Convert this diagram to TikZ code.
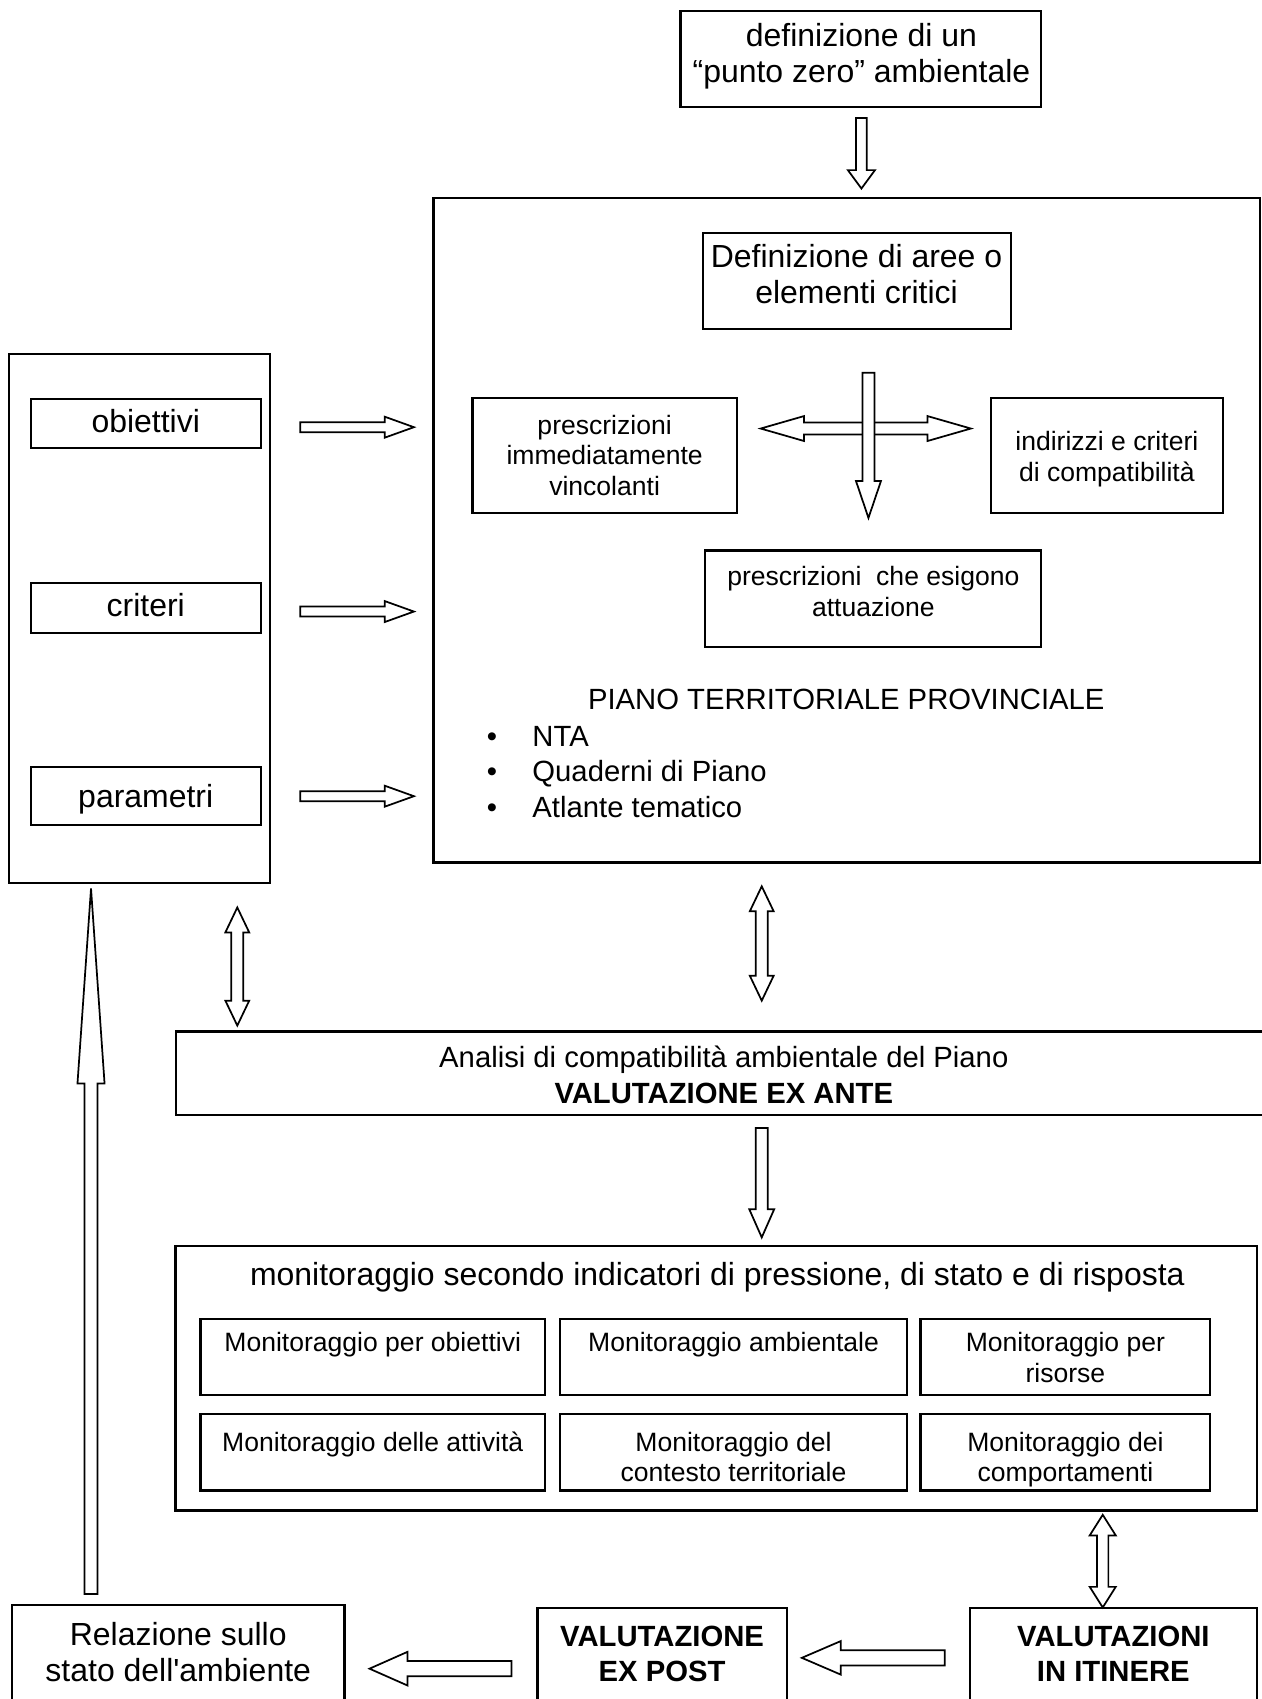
\documentclass[tikz,border=0pt]{standalone}
\usepackage{fontspec}
\setmainfont{Liberation Sans}
\usetikzlibrary{calc,fit}
\newcommand\FBig{\fontsize{14.75pt}{16.5pt}\selectfont}
\newcommand\FMed{\fontsize{13.5pt}{16pt}\selectfont}
\newcommand\FSmall{\fontsize{12.25pt}{14pt}\selectfont}
\newcommand\FBold{\fontsize{13.5pt}{16pt}\selectfont\bfseries}
\newcommand\FAna{\fontsize{13.5pt}{17pt}\selectfont}
% hollow single arrow: #1 tail, #2 tip, #3 half shaft, #4 half head, #5 head length
\newcommand\BlockArrow[5]{%
  \coordinate (ba-h) at ($(#2)!#5!(#1)$);
  \draw[harrow] ($(#1)!#3!90:(#2)$) -- ($(ba-h)!#3!-90:(#1)$) -- ($(ba-h)!#4!-90:(#1)$) -- (#2) -- ($(ba-h)!#4!90:(#1)$) -- ($(ba-h)!#3!90:(#1)$) -- ($(#1)!#3!-90:(#2)$) -- cycle;
}
% hollow double arrow
\newcommand\DoubleArrow[5]{%
  \coordinate (da-a) at ($(#1)!#5!(#2)$);
  \coordinate (da-b) at ($(#2)!#5!(#1)$);
  \draw[harrow] (#1) -- ($(da-a)!#4!90:(#2)$) -- ($(da-a)!#3!90:(#2)$) -- ($(da-b)!#3!-90:(#1)$) -- ($(da-b)!#4!-90:(#1)$) -- (#2) -- ($(da-b)!#4!90:(#1)$) -- ($(da-b)!#3!90:(#1)$) -- ($(da-a)!#3!-90:(#2)$) -- ($(da-a)!#4!-90:(#2)$) -- cycle;
}
\begin{document}
\begin{tikzpicture}[x=0.5pt,y=-0.5pt,
  box/.style={draw, line width=1pt, inner sep=0pt},
  txt/.style={inner sep=0pt, align=center},
  harrow/.style={draw, fill=white, line width=0.8pt, line join=miter}]
\useasboundingbox (0,0) rectangle (1164,1568);

% ---------- boxes ----------
\node[box, fit={(628,10) (961,99)}] (top) {};
\node[box, fit={(400,183) (1162.6,796)}] (ptp) {};
\node[box, fit={(649,215) (933,304)}] (defi) {};
\node[box, fit={(436,367.5) (680,473.5)}] (presc1) {};
\node[box, fit={(914.5,367.5) (1128.5,473.5)}] (indir) {};
\node[box, fit={(651,508) (961,597)}] (presc2) {};
\node[box, fit={(8,327) (249,815)}] (leftbox) {};
\node[box, fit={(28.5,368) (241,413.5)}] (obi) {};
\node[box, fit={(28.5,538) (241,584)}] (cri) {};
\node[box, fit={(28.5,708) (241,761)}] (par) {};
\node[box, fit={(162.5,952) (1190,1029)}] (ana) {};
\node[box, fit={(162,1150) (1160.4,1394)}] (mon) {};
\node[box, fit={(185,1217) (503,1287.5)}] (m1) {};
\node[box, fit={(517,1217) (837,1287.5)}] (m2) {};
\node[box, fit={(849.5,1217) (1117,1287.5)}] (m3) {};
\node[box, fit={(185,1305) (503,1375.5)}] (m4) {};
\node[box, fit={(517,1305) (837,1375.5)}] (m5) {};
\node[box, fit={(849.5,1305) (1117,1375.5)}] (m6) {};
\node[box, fit={(11,1481) (318,1600)}] (rel) {};
\node[box, fit={(496,1484) (726,1600)}] (expost) {};
\node[box, fit={(895,1484) (1160.4,1600)}] (iti) {};

% ---------- texts ----------
\node[txt, font=\FBig] (top-t) at (795,53) {definizione di un\strut\\“punto zero” ambientale\strut};
\node[txt, font=\FBig] (defi-t) at (790.5,257) {Definizione di aree o\strut\\elementi critici\strut};
\node[txt, font=\FSmall] (presc1-t) at (558,423.5) {prescrizioni\strut\\immediatamente\strut\\vincolanti\strut};
\node[txt, font=\FSmall] (indir-t) at (1021.5,424.5) {indirizzi e criteri\strut\\di compatibilità\strut};
\node[txt, font=\FSmall] (presc2-t) at (806,549) {prescrizioni\ \ che esigono\strut\\attuazione\strut};
\node[txt, font=\FMed, anchor=base] (piano-t) at (781,654.5) {PIANO TERRITORIALE PROVINCIALE};
\node[txt, font=\FMed, anchor=base] (b1) at (454,688.5) {•};
\node[txt, font=\FMed, anchor=base] (b2) at (454,721.5) {•};
\node[txt, font=\FMed, anchor=base] (b3) at (454,754) {•};
\node[txt, font=\FMed, anchor=base west] (l1) at (491,688.5) {NTA};
\node[txt, font=\FMed, anchor=base west] (l2) at (491,721.5) {Quaderni di Piano};
\node[txt, font=\FMed, anchor=base west] (l3) at (491,754) {Atlante tematico};

\node[txt, font=\FBig, anchor=base] (obi-t) at (134.5,399) {obiettivi};
\node[txt, font=\FBig, anchor=base] (cri-t) at (134.5,569) {criteri};
\node[txt, font=\FBig, anchor=base] (par-t) at (134.5,745) {parametri};

\node[txt, font=\FAna] (ana-t) at (668,995) {Analisi di compatibilità ambientale del Piano\strut\\\textbf{VALUTAZIONE EX ANTE}\strut};
\node[txt, font=\FBig, anchor=base] (mon-t) at (662,1186) {monitoraggio secondo indicatori di pressione, di stato e di risposta};

\begin{scope}
\clip (m1.north west) rectangle (m1.south east);
\node[txt, font=\FSmall, anchor=north] (m1-t) at ($(m1.north)+(0,11.5)$) {Monitoraggio per obiettivi\strut};
\end{scope}
\begin{scope}
\clip (m2.north west) rectangle (m2.south east);
\node[txt, font=\FSmall, anchor=north] (m2-t) at ($(m2.north)+(0,11.5)$) {Monitoraggio ambientale\strut};
\end{scope}
\begin{scope}
\clip (m3.north west) rectangle (m3.south east);
\node[txt, font=\FSmall, anchor=north] (m3-t) at ($(m3.north)+(0,11.5)$) {Monitoraggio per\strut\\risorse\strut};
\end{scope}
\begin{scope}
\clip (m4.north west) rectangle (m4.south east);
\node[txt, font=\FSmall, anchor=north] (m4-t) at ($(m4.north)+(0,15.5)$) {Monitoraggio delle attività\strut};
\end{scope}
\begin{scope}
\clip (m5.north west) rectangle (m5.south east);
\node[txt, font=\FSmall, anchor=north] (m5-t) at ($(m5.north)+(0,15.5)$) {Monitoraggio del\strut\\contesto territoriale\strut};
\end{scope}
\begin{scope}
\clip (m6.north west) rectangle (m6.south east);
\node[txt, font=\FSmall, anchor=north] (m6-t) at ($(m6.north)+(0,15.5)$) {Monitoraggio dei\strut\\comportamenti\strut};
\end{scope}

\node[txt, font=\FBig] (rel-t) at (164.5,1528.5) {Relazione sullo\strut\\stato dell\textquotesingle ambiente\strut};
\node[txt, font=\FBold] (expost-t) at (611,1529) {VALUTAZIONE\strut\\EX POST\strut};
\node[txt, font=\FBold] (iti-t) at (1027.5,1529) {VALUTAZIONI\strut\\IN ITINERE\strut};

% ---------- arrows ----------
\coordinate (a1s) at ($(top.south)+(0.5,9)$);
\coordinate (a1e) at ($(top.south |- ptp.north)+(0.5,-8)$);
\BlockArrow{a1s}{a1e}{2.5pt}{6.25pt}{8.5pt}

\coordinate (hl) at ($(presc1.north east)+(21,29)$);
\coordinate (hr) at ($(indir.north west)+(-17.5,29)$);
\DoubleArrow{hl}{hr}{2.75pt}{5.75pt}{20pt}
\coordinate (vs) at (801.5,344);
\coordinate (ve) at ($(vs |- presc2.north)+(0,-29)$);
\BlockArrow{vs}{ve}{2.75pt}{5.75pt}{17pt}

\coordinate (o-s) at ($(obi.east)+(35,3.5)$);
\coordinate (o-e) at ($(obi.east -| ptp.west)+(-17,3.5)$);
\BlockArrow{o-s}{o-e}{2.3pt}{4.85pt}{13.5pt}
\coordinate (c-s) at ($(cri.east)+(35,3.4)$);
\coordinate (c-e) at ($(cri.east -| ptp.west)+(-17,3.4)$);
\BlockArrow{c-s}{c-e}{2.3pt}{4.85pt}{13.5pt}
\coordinate (p-s) at ($(par.east)+(35,0.3)$);
\coordinate (p-e) at ($(par.east -| ptp.west)+(-17,0.3)$);
\BlockArrow{p-s}{p-e}{2.3pt}{4.85pt}{13.5pt}

\coordinate (ld1) at ($(leftbox.south east)+(-31,21.5)$);
\coordinate (ld2) at ($(leftbox.south east |- ana.north)+(-31,-4.5)$);
\DoubleArrow{ld1}{ld2}{2.75pt}{5.5pt}{11.5pt}

\coordinate (cd1) at ($(ptp.south)+(-78.3,21)$);
\coordinate (cd2) at ($(ptp.south |- ana.north)+(-78.3,-27.5)$);
\DoubleArrow{cd1}{cd2}{2.75pt}{5.5pt}{11.5pt}

\coordinate (dm1) at ($(ptp.south |- ana.south)+(-78.3,11)$);
\coordinate (dm2) at ($(ptp.south |- mon.north)+(-78.3,-7)$);
\BlockArrow{dm1}{dm2}{2.75pt}{5.75pt}{13pt}

\coordinate (rd1) at ($(iti.north |- mon.south)+(-10,3)$);
\coordinate (rd2) at ($(iti.north)+(-10,0.5)$);
\DoubleArrow{rd1}{rd2}{2.6pt}{6pt}{9.5pt}

\coordinate (e1s) at ($(iti.north west)+(-22,47)$);
\coordinate (e1e) at ($(expost.north east)+(13,47)$);
\BlockArrow{e1s}{e1e}{3.5pt}{7.75pt}{18pt}
\coordinate (e2s) at ($(expost.north west)+(-23,57)$);
\coordinate (e2e) at ($(rel.north east |- expost.north)+(22,57)$);
\BlockArrow{e2s}{e2e}{3.5pt}{7.75pt}{17.5pt}

\coordinate (u1s) at ($(rel.north west)+(74,-9)$);
\coordinate (u1e) at ($(rel.north west |- leftbox.south)+(74,4)$);
\BlockArrow{u1s}{u1e}{3pt}{6.25pt}{90pt}
\end{tikzpicture}
\end{document}
